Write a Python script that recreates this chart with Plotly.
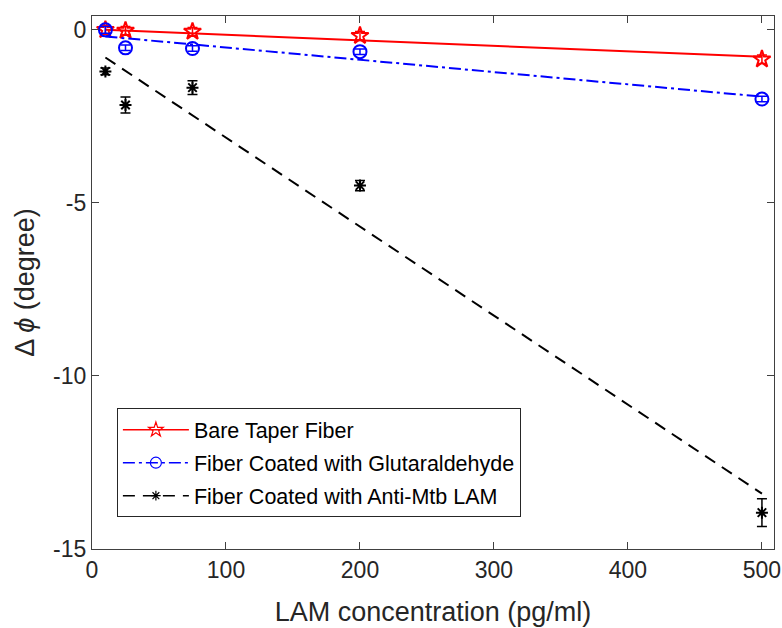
import plotly.graph_objects as go

# concentraciones (pg/ml)
conc = [10, 25, 75, 200, 500]

# fase (grados) por tipo de fibra
bare = [0.0, -0.02, -0.05, -0.17, -0.85]
bare_err = [0.12, 0.12, 0.12, 0.12, 0.12]
glut = [0.0, -0.52, -0.54, -0.63, -2.0]
glut_err = [0.1, 0.08, 0.08, 0.08, 0.08]
lam = [-1.2, -2.17, -1.67, -4.5, -13.95]
lam_err = [0.1, 0.23, 0.2, 0.15, 0.4]

# ajuste lineal (extremos)
fit_x = [10, 500]
bare_fit = [0.0, -0.78]
glut_fit = [-0.19, -1.93]
lam_fit = [-0.8, -13.4]

names = ["Bare Taper Fiber", "Fiber Coated with Glutaraldehyde", "Fiber Coated with Anti-Mtb LAM"]
x_ticks = [0, 100, 200, 300, 400, 500]
y_ticks = [0, -5, -10, -15]

series = [
    (names[0], bare, bare_err, bare_fit, "#ff0000", "solid", "star-open", 13),
    (names[1], glut, glut_err, glut_fit, "#0000ff", "12px,4px,3px,4px", "circle-open", 13),
    (names[2], lam, lam_err, lam_fit, "#000000", "12px,8px", "asterisk-open", 10),
]

fig = go.Figure()
for i, (name, vals, err, fit, color, dash, sym, size) in enumerate(series):
    fig.add_trace(go.Scatter(x=fit_x, y=fit, mode="lines", showlegend=False,
                             line=dict(color=color, width=2, dash=dash)))
    fig.add_trace(go.Scatter(x=conc, y=vals, mode="markers", showlegend=False,
                             marker=dict(symbol=sym, size=size, color=color, line=dict(width=2, color=color)),
                             error_y=dict(type="data", array=err, color=color, thickness=1.5, width=5)))
    # entrada de leyenda
    fig.add_trace(go.Scatter(x=[None], y=[None], mode="lines+markers", name=name, legendgroup=str(i),
                             line=dict(color=color, width=1.5, dash=dash),
                             marker=dict(symbol=sym, size=size - 2, color=color, line=dict(width=1.2, color=color))))

axis_style = dict(showline=True, linecolor="#404040", linewidth=1.3, mirror="allticks",
                  ticks="inside", ticklen=7, tickcolor="#404040", showgrid=False, zeroline=False,
                  automargin=False, ticklabeloverflow="allow", tickfont=dict(size=23, color="#262626"))

fig.update_layout(
    width=782, height=628,
    plot_bgcolor="white", paper_bgcolor="white",
    font=dict(family="Liberation Sans, Arial, sans-serif", color="#262626"),
    margin=dict(l=92, r=8, t=16, b=79),
    xaxis=dict(range=[0, 509], tickvals=x_ticks, ticktext=[str(v) for v in x_ticks],
               title=dict(text="LAM concentration (pg/ml)", font=dict(size=27, color="#262626"), standoff=20),
               **axis_style),
    yaxis=dict(range=[-15, 0.4], tickvals=y_ticks, ticktext=[str(v) for v in y_ticks],
               title=dict(text="Δ <i>ϕ</i> (degree)", font=dict(size=27, color="#262626"), standoff=10),
               **axis_style),
    legend=dict(x=0.0365, y=0.264, xanchor="left", yanchor="top",
                bgcolor="white", bordercolor="#262626", borderwidth=1,
                font=dict(size=21.5, color="#000000"), itemwidth=66,
                tracegroupgap=2),
)

# quitar el margen del body para que la figura ocupe la ventana completa
fig.write_html("out.html", config={"displayModeBar": False},
               post_script="document.body.style.margin='0px';")
